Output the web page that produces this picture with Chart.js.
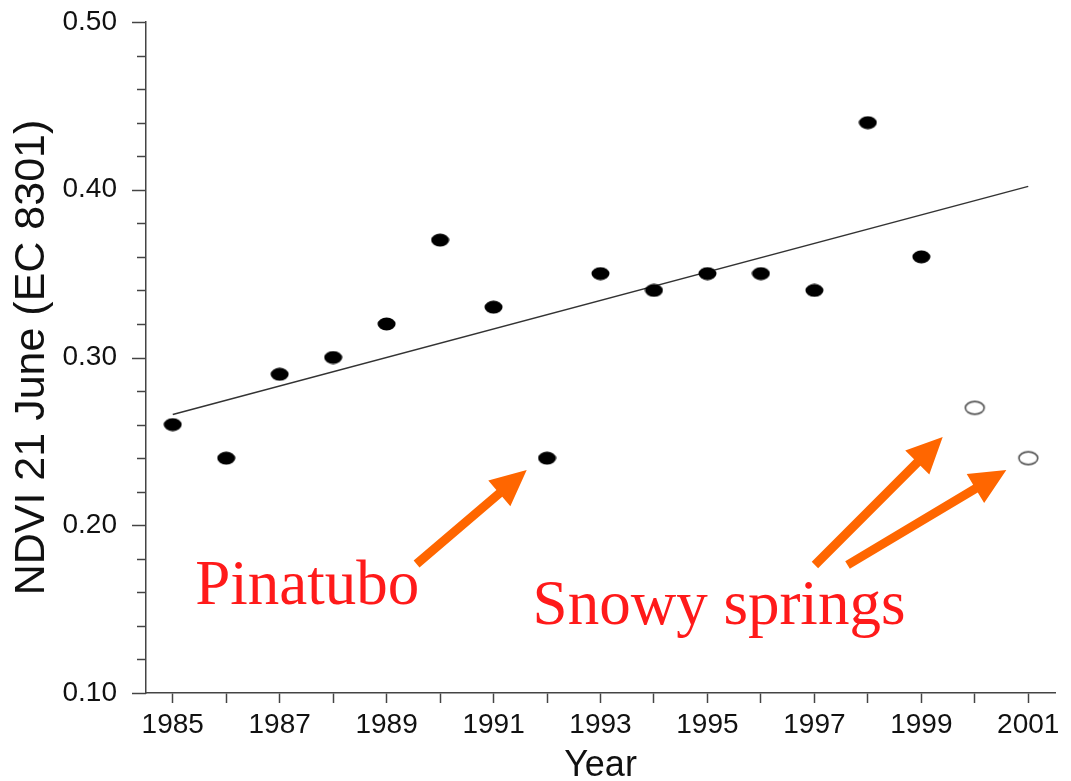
<!DOCTYPE html>
<html><head><meta charset="utf-8">
<script src="https://cdn.jsdelivr.net/npm/chart.js@4.4.1/dist/chart.umd.min.js"></script>
<style>html,body{margin:0;padding:0;background:#fff;}canvas{display:block;}</style>
</head><body>
<canvas id="c" width="1071" height="781"></canvas>
<script>
// ---- data ----
const years = [1985,1986,1987,1988,1989,1990,1991,1992,1993,1994,1995,1996,1997,1998,1999];
const ndvi = [0.26,0.24,0.29,0.30,0.32,0.37,0.33,0.24,0.35,0.34,0.35,0.35,0.34,0.44,0.36];
const snowyYears = [2000,2001];
const snowyNdvi = [0.27,0.24];
const trendYears = [1985,2001];
const trendNdvi = [0.266,0.402];
const xTickYears = [1985,1986,1987,1988,1989,1990,1991,1992,1993,1994,1995,1996,1997,1998,1999,2000,2001];
const xTickLabels = ['1985','','1987','','1989','','1991','','1993','','1995','','1997','','1999','','2001'];
const yTickValues = [0.10,0.12,0.14,0.16,0.18,0.20,0.22,0.24,0.26,0.28,0.30,0.32,0.34,0.36,0.38,0.40,0.42,0.44,0.46,0.48,0.50];
const yTickLabels = ['0.10','','','','','0.20','','','','','0.30','','','','','0.40','','','','','0.50'];
const yTitle = 'NDVI 21 June (EC 8301)';
const xTitle = 'Year';

// annotations (data coordinates)
const noteTexts = [
  {text:'Pinatubo', x:1985.42, y:0.1531},
  {text:'Snowy springs', x:1991.73, y:0.1411}
];
const noteArrows = [
  {from:[1989.56,0.1769], to:[1991.62,0.2329]},
  {from:[1997.01,0.1763], to:[1999.40,0.2526]},
  {from:[1997.62,0.1763], to:[2000.59,0.2329]}
];

function ellipseMarker(w,h,fill,stroke,lw){
  const c=document.createElement('canvas'); c.width=w; c.height=h;
  const g=c.getContext('2d');
  g.beginPath(); g.ellipse(w/2,h/2,w/2-(lw||0)-0.5,h/2-(lw||0)-0.5,0,0,Math.PI*2);
  if(fill){g.fillStyle=fill;g.fill();}
  if(stroke){g.strokeStyle=stroke;g.lineWidth=lw;g.stroke();}
  return c;
}
const solidDot = ellipseMarker(19,14,'#000',null,0);
const openDot = ellipseMarker(23,17,'#fff','#555',1.6);

const AXIS_COLOR='#444';

const customPlugin = {
  id:'custom',
  afterDatasetsDraw(chart){
    const ctx=chart.ctx, xs=chart.scales.x, ys=chart.scales.y;
    ctx.save();
    ctx.strokeStyle=AXIS_COLOR; ctx.lineWidth=1.5;
    yTickValues.forEach((v,i)=>{
      const py=Math.round(ys.getPixelForValue(v))+0.5;
      const len = yTickLabels[i] ? 14 : 9;
      ctx.beginPath(); ctx.moveTo(xs.left-len,py); ctx.lineTo(xs.left,py); ctx.stroke();
    });
    ctx.restore();
    ctx.save();
    ctx.fillStyle='#ff6600';
    noteArrows.forEach(a=>{
      const x0=xs.getPixelForValue(a.from[0]), y0=ys.getPixelForValue(a.from[1]);
      const x1=xs.getPixelForValue(a.to[0]), y1=ys.getPixelForValue(a.to[1]);
      const dx=x1-x0, dy=y1-y0, L=Math.hypot(dx,dy), ux=dx/L, uy=dy/L, nx=-uy, ny=ux;
      const head=36, hw=17, sw=4.5;
      const bx=x1-ux*head, by=y1-uy*head;
      ctx.beginPath();
      ctx.moveTo(x0+nx*sw,y0+ny*sw);
      ctx.lineTo(bx+nx*sw,by+ny*sw);
      ctx.lineTo(bx+nx*hw,by+ny*hw);
      ctx.lineTo(x1,y1);
      ctx.lineTo(bx-nx*hw,by-ny*hw);
      ctx.lineTo(bx-nx*sw,by-ny*sw);
      ctx.lineTo(x0-nx*sw,y0-ny*sw);
      ctx.closePath(); ctx.fill();
    });
    ctx.fillStyle='#ff1a1a';
    ctx.font='63px "Liberation Serif", "Times New Roman", serif';
    ctx.textBaseline='alphabetic'; ctx.textAlign='left';
    noteTexts.forEach(t=>{
      ctx.fillText(t.text, xs.getPixelForValue(t.x), ys.getPixelForValue(t.y));
    });
    ctx.restore();
  }
};

new Chart(document.getElementById('c'),{
  type:'scatter',
  data:{datasets:[
    {label:'trend', type:'line', data:trendYears.map((x,i)=>({x,y:trendNdvi[i]})),
     borderColor:'#333', borderWidth:1.5, pointRadius:0, fill:false, order:3},
    {label:'NDVI', data:years.map((x,i)=>({x,y:ndvi[i]})),
     pointStyle:solidDot, pointRadius:8, order:1},
    {label:'Snowy', data:snowyYears.map((x,i)=>({x,y:snowyNdvi[i]})),
     pointStyle:openDot, pointRadius:8, order:2}
  ]},
  options:{
    responsive:false, animation:false, devicePixelRatio:1,
    layout:{padding:{left:0,right:16,top:22,bottom:0}},
    plugins:{legend:{display:false}, tooltip:{enabled:false}},
    scales:{
      x:{type:'linear', min:1984.5, max:2001.5,
        afterBuildTicks(s){ s.ticks = xTickYears.map(v=>({value:v})); },
        afterFit(s){ s.height = 88; s.paddingLeft = 0; s.paddingRight = 0; },
        ticks:{autoSkip:false, maxRotation:0, padding:5, color:'#111',
          font:{family:'"Liberation Sans", Arial, sans-serif', size:28},
          callback(v){ const i=xTickYears.indexOf(v); return i>=0?xTickLabels[i]:''; }},
        grid:{display:true, drawOnChartArea:false, drawTicks:true, tickLength:10, tickColor:AXIS_COLOR, tickWidth:1.5},
        border:{display:true, color:AXIS_COLOR, width:1.5},
        title:{display:true, text:xTitle, color:'#111', padding:{top:0,bottom:0},
          font:{family:'"Liberation Sans", Arial, sans-serif', size:36, lineHeight:0.84}}
      },
      y:{type:'linear', min:0.10, max:0.50,
        afterBuildTicks(s){ s.ticks = yTickValues.map(v=>({value:v})); },
        afterFit(s){ s.width = 146; s.paddingTop = 0; s.paddingBottom = 0; },
        ticks:{autoSkip:false, padding:15, color:'#111',
          font:{family:'"Liberation Sans", Arial, sans-serif', size:28},
          callback(v){ const i=yTickValues.findIndex(t=>Math.abs(t-v)<1e-9); return i>=0?yTickLabels[i]:''; }},
        grid:{display:true, drawOnChartArea:false, drawTicks:true, tickLength:14, tickColor:'rgba(0,0,0,0)'},
        border:{display:true, color:AXIS_COLOR, width:1.5},
        title:{display:true, text:yTitle, color:'#111', padding:{top:6,bottom:0},
          font:{family:'"Liberation Sans", Arial, sans-serif', size:43, lineHeight:1.2}}
      }
    }
  },
  plugins:[customPlugin]
});
</script>
</body></html>
